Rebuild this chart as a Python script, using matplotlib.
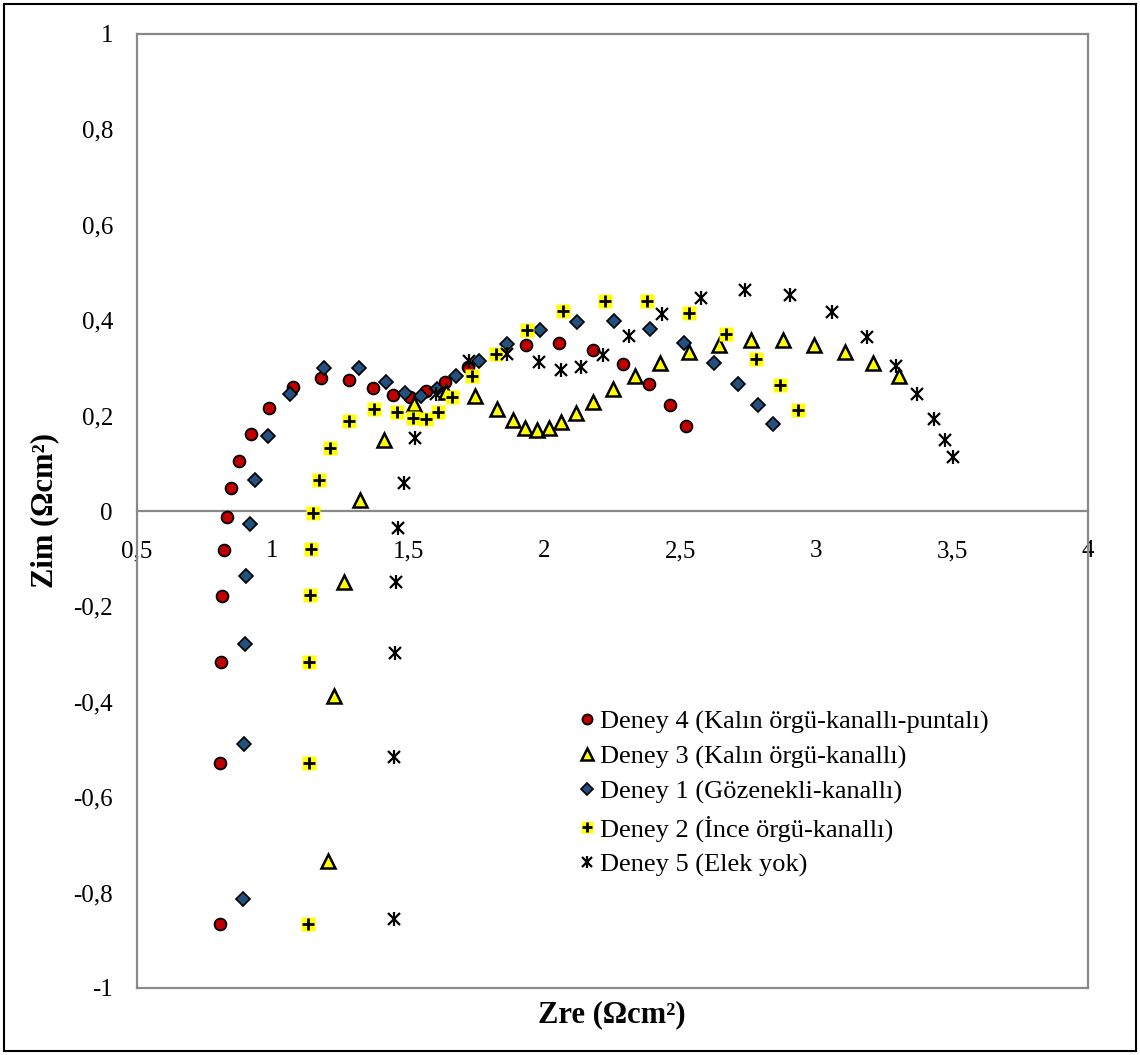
import numpy as np
import matplotlib
matplotlib.use('Agg')
import matplotlib.pyplot as plt
from matplotlib.patches import Rectangle

plt.rcParams['font.family'] = ['Liberation Serif', 'DejaVu Serif']
plt.rcParams['font.size'] = 18

# Deney 4 (Kalın örgü-kanallı-puntalı)
d4_x = [0.807, 0.807, 0.812, 0.814, 0.822, 0.832, 0.849, 0.877, 0.920, 0.987, 1.076, 1.180, 1.282,
        1.371, 1.442, 1.506, 1.565, 1.635, 1.718, 1.934, 2.055, 2.179, 2.290, 2.385, 2.462, 2.520]
d4_y = [-0.866, -0.529, -0.316, -0.178, -0.082, -0.012, 0.048, 0.105, 0.161, 0.215, 0.259, 0.279, 0.275,
        0.258, 0.243, 0.240, 0.251, 0.271, 0.301, 0.348, 0.353, 0.338, 0.308, 0.266, 0.223, 0.179]

# Deney 3 (Kalın örgü-kanallı)
d3_x = [1.205, 1.226, 1.263, 1.321, 1.409, 1.519, 1.638, 1.744, 1.825, 1.884, 1.929, 1.973, 2.016, 2.062,
        2.117, 2.179, 2.251, 2.333, 2.426, 2.531, 2.641, 2.759, 2.877, 2.993, 3.106, 3.210, 3.303]
d3_y = [-0.734, -0.388, -0.149, 0.023, 0.149, 0.224, 0.250, 0.241, 0.214, 0.190, 0.173, 0.169, 0.173, 0.186,
        0.206, 0.229, 0.256, 0.284, 0.310, 0.333, 0.349, 0.358, 0.358, 0.349, 0.333, 0.310, 0.282]

# Deney 1 (Gözenekli-kanallı)
d1_x = [0.893, 0.894, 0.898, 0.903, 0.916, 0.936, 0.983, 1.066, 1.191, 1.319, 1.418, 1.489, 1.546,
        1.604, 1.676, 1.761, 1.864, 1.984, 2.119, 2.256, 2.390, 2.514, 2.623, 2.712, 2.786, 2.842]
d1_y = [-0.814, -0.489, -0.279, -0.137, -0.028, 0.066, 0.158, 0.245, 0.299, 0.299, 0.271, 0.247, 0.241,
        0.256, 0.282, 0.315, 0.350, 0.379, 0.397, 0.398, 0.382, 0.352, 0.311, 0.266, 0.223, 0.182]

# Deney 2 (İnce örgü-kanallı)
d2_x = [1.132, 1.133, 1.136, 1.138, 1.142, 1.149, 1.172, 1.212, 1.282, 1.375, 1.457, 1.517, 1.564,
        1.610, 1.661, 1.733, 1.822, 1.935, 2.070, 2.222, 2.379, 2.531, 2.667, 2.778, 2.866, 2.934]
d2_y = [-0.866, -0.529, -0.316, -0.177, -0.080, -0.004, 0.066, 0.132, 0.188, 0.213, 0.208, 0.195, 0.192,
        0.208, 0.240, 0.282, 0.329, 0.379, 0.419, 0.441, 0.440, 0.415, 0.372, 0.319, 0.264, 0.212]

# Deney 5 (Elek yok)
d5_x = [1.447, 1.448, 1.451, 1.454, 1.462, 1.484, 1.524, 1.601, 1.723, 1.863, 1.981, 2.062, 2.135,
        2.215, 2.311, 2.433, 2.576, 2.738, 2.903, 3.057, 3.188, 3.293, 3.372, 3.433, 3.475, 3.505]
d5_y = [-0.855, -0.515, -0.298, -0.149, -0.036, 0.058, 0.154, 0.245, 0.315, 0.330, 0.312, 0.296, 0.301,
        0.327, 0.367, 0.412, 0.447, 0.463, 0.452, 0.417, 0.364, 0.304, 0.245, 0.192, 0.149, 0.113]

labels = ['Deney 4 (Kalın örgü-kanallı-puntalı)', 'Deney 3 (Kalın örgü-kanallı)',
          'Deney 1 (Gözenekli-kanallı)', 'Deney 2 (İnce örgü-kanallı)', 'Deney 5 (Elek yok)']

xticks = [0.5, 1, 1.5, 2, 2.5, 3, 3.5, 4]
xticklabels = ['0,5', '1', '1,5', '2', '2,5', '3', '3,5', '4']
yticks = [-1, -0.8, -0.6, -0.4, -0.2, 0, 0.2, 0.4, 0.6, 0.8, 1]
yticklabels = ['-1', '-0,8', '-0,6', '-0,4', '-0,2', '0', '0,2', '0,4', '0,6', '0,8', '1']

gray = '#898989'

fig = plt.figure(figsize=(11.4, 10.55), dpi=100)
ax = fig.add_axes([136.5 / 1140, 1 - 988 / 1055, (1088 - 136.5) / 1140, (988 - 34) / 1055])

h4, = ax.plot(d4_x, d4_y, 'o', ms=8.5, mfc='#C00000', mec='black', mew=1.3, ls='none', zorder=5)
h3, = ax.plot(d3_x, d3_y, '^', ms=9.5, mfc='#FFFF00', mec='black', mew=1.8, ls='none', zorder=5)
h1, = ax.plot(d1_x, d1_y, 'D', ms=7, mfc='#23507F', mec='black', mew=1.2, ls='none', zorder=5)
h2a, = ax.plot(d2_x, d2_y, 's', ms=9.5, mfc='#FFFF00', mec='none', ls='none', zorder=5)
h2b, = ax.plot(d2_x, d2_y, '+', ms=8, mec='black', mew=2, ls='none', zorder=6)
h5a, = ax.plot(d5_x, d5_y, 'x', ms=8, mec='black', mew=1.6, ls='none', zorder=5)
h5b, = ax.plot(d5_x, d5_y, '|', ms=10, mec='black', mew=1.6, ls='none', zorder=5)

ax.set_xlim(0.5, 4)
ax.set_ylim(-1, 1)

for s in ax.spines.values():
    s.set_color(gray)
    s.set_linewidth(1.6)
ax.spines['bottom'].set_position(('data', 0))
ax.plot([0, 1], [0, 0], transform=ax.transAxes, color=gray, lw=1.6, clip_on=False, zorder=4)

ax.set_xticks(xticks)
ax.set_xticklabels(xticklabels)
ax.set_yticks(yticks)
ax.set_yticklabels(yticklabels)
ax.tick_params(axis='both', length=0, labelsize=18)
ax.tick_params(axis='x', pad=21)
ax.tick_params(axis='y', pad=17)

fig.text(612 / 1140, 1 - 1015 / 1055, 'Zre (Ωcm²)', ha='center', va='center',
         fontsize=22, fontweight='bold')
fig.text(45 / 1140, 1 - 511 / 1055, 'Zim (Ωcm²)', ha='center', va='center',
         fontsize=22, fontweight='bold', rotation=90)

leg = ax.legend([h4, h3, h1, (h2a, h2b), (h5a, h5b)], labels,
                loc='upper left', bbox_to_anchor=(566 / 1140, 1 - 697 / 1055),
                bbox_transform=fig.transFigure, frameon=False, fontsize=19,
                handlelength=0.6, handletextpad=0.2, labelspacing=0.42, borderpad=0,
                markerscale=0.85)

fig.patches.append(Rectangle((4 / 1140, 4 / 1055), 1132 / 1140, 1047 / 1055,
                             transform=fig.transFigure, fill=False, ec='black', lw=1.5))

fig.savefig('out.png', dpi=100)
